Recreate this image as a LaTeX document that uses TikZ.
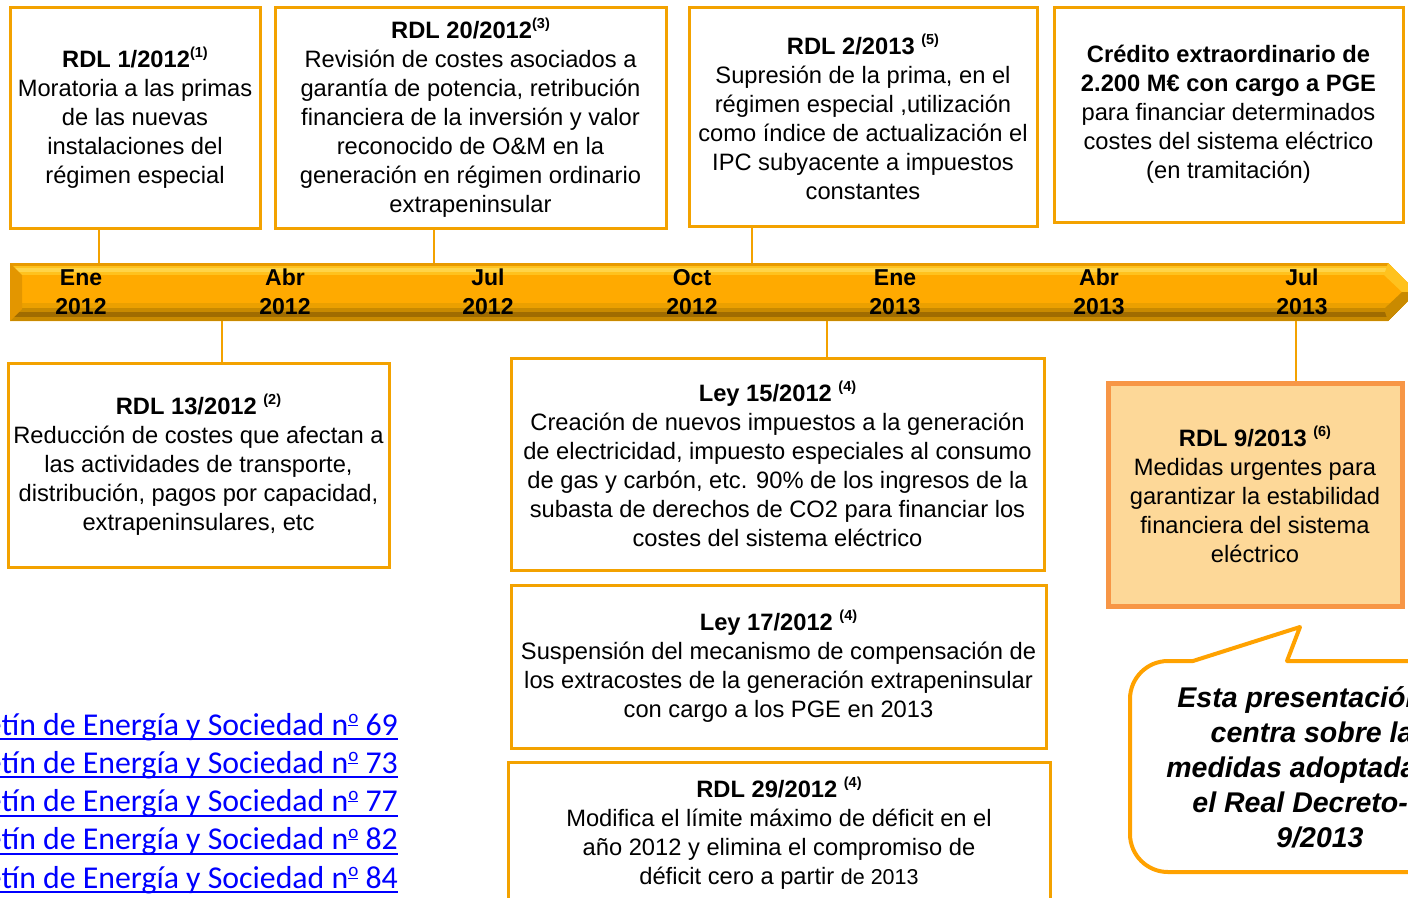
\documentclass[tikz,border=0pt]{standalone}
\usepackage{fontspec}
\setmainfont{Liberation Sans}
\newfontfamily\calib{Carlito}
\usetikzlibrary{calc}
\definecolor{boxor}{HTML}{F3A200}
\definecolor{nineor}{HTML}{F79646}
\definecolor{ninefill}{HTML}{FDD898}
\definecolor{callor}{HTML}{FFA200}
\definecolor{linkblue}{HTML}{0000FF}
\definecolor{arrmain}{HTML}{FFAA00}
\definecolor{arrhi}{HTML}{FFD448}
\definecolor{arrhi2}{HTML}{FFC21E}
\definecolor{arredge}{HTML}{E89A00}
\definecolor{arrsh1}{HTML}{EBA000}
\definecolor{arrsh2}{HTML}{C98A00}
\definecolor{arrsh3}{HTML}{A06C00}
\definecolor{arrbev}{HTML}{E39600}
\newcommand{\supx}[1]{\raisebox{0.42em}{\fontsize{14.5}{14.5}\selectfont\bfseries #1}}
\newcommand{\ordo}{\raisebox{0.36em}{\fontsize{19}{19}\selectfont\underline{o}}}
\tikzset{
  box/.style={draw=boxor, line width=3pt, align=center, inner sep=0pt,
              font=\fontsize{23.7}{29}\selectfont},
  conn/.style={draw=boxor, line width=1.6pt},
  tl/.style={font=\fontsize{23}{29}\selectfont\bfseries, align=center, inner sep=0pt},
  lnk/.style={font=\calib\fontsize{31.8}{31.8}\selectfont, text=linkblue, anchor=base east, inner sep=0pt},
  uline/.style={draw=linkblue, line width=2pt},
  callbox/.style={draw=callor, line width=4pt, fill=white, line join=round},
}
\begin{document}
\begin{tikzpicture}[x=1pt,y=-1pt]
\clip (0,0) rectangle (1408,897);
\fill[white] (0,0) rectangle (1408,897);

% ---------- timeline arrow ----------
\begin{scope}
  \clip (10,263) -- (1388,263) -- (1417,292) -- (1388,321) -- (10,321) -- cycle;
  \fill[arrmain] (0,250) rectangle (1430,330);
  \fill[arredge] (0,263) rectangle (1430,265.5);
  \fill[arrhi2] (0,265.5) rectangle (1430,267.5);
  \fill[arrhi] (0,267.5) rectangle (1430,272);
  \fill[arrhi2] (0,272) rectangle (1430,275);
  \fill[arrsh1] (0,303) rectangle (1430,308);
  \fill[arrsh2] (0,308) rectangle (1430,312);
  \fill[arrsh3] (0,312) rectangle (1430,317);
  \fill[arrsh2] (0,317) rectangle (1430,321);
  \fill[arrbev] (10,263) -- (22,275) -- (22,309) -- (10,321) -- cycle;
  \fill[arrhi2] (1388,263) -- (1417,292) -- (1402,292) -- (1384,275) -- cycle;
  \fill[arrsh2] (1384,309) -- (1402,292) -- (1417,292) -- (1388,321) -- cycle;
\end{scope}
\coordinate (c1) at (99,263);
\coordinate (c2) at (434,263);
\coordinate (c3) at (752,263);
\coordinate (c5) at (222,321);
\coordinate (c6) at (827,321);
\coordinate (c9) at (1296,321);

\node[tl] (t1) at (81,292) {Ene\\2012};
\node[tl] (t2) at (285,292) {Abr\\2012};
\node[tl] (t3) at (488,292) {Jul\\2012};
\node[tl] (t4) at (692,292) {Oct\\2012};
\node[tl] (t5) at (895,292) {Ene\\2013};
\node[tl] (t6) at (1099,292) {Abr\\2013};
\node[tl] (t7) at (1302,292) {Jul\\2013};

% ---------- upper boxes ----------
\node[box, minimum width=250pt, minimum height=221pt] (b1) at (135,117.5)
  {\textbf{RDL 1/2012}\supx{(1)}\\Moratoria a las primas\\de las nuevas\\instalaciones del\\régimen especial};
\node[box, minimum width=391pt, minimum height=221pt] (b2) at (470.5,117.5)
  {\textbf{RDL 20/2012}\supx{(3)}\\Revisión de costes asociados a\\garantía de potencia, retribución\\financiera de la inversión y valor\\reconocido de O\&M en la\\generación en régimen ordinario\\extrapeninsular};
\node[box, minimum width=348pt, minimum height=219pt] (b3) at (863,116.5)
  {\textbf{RDL 2/2013} \supx{(5)}\\Supresión de la prima, en el\\régimen especial ,utilización\\como índice de actualización el\\IPC subyacente a impuestos\\constantes};
\node[box, minimum width=349pt, minimum height=215pt] (b4) at (1228.5,114.5)
  {\textbf{Crédito extraordinario de}\\\textbf{2.200 M€ con cargo a PGE}\\para financiar determinados\\costes del sistema eléctrico\\(en tramitación)};

% ---------- lower boxes ----------
\node[box, minimum width=381pt, minimum height=204pt] (b5) at (198.5,465)
  {\textbf{RDL 13/2012} \supx{(2)}\\Reducción de costes que afectan a\\las actividades de transporte,\\distribución, pagos por capacidad,\\extrapeninsulares, etc};
\node[box, minimum width=533pt, minimum height=212pt] (b6) at (777.5,464)
  {\textbf{Ley 15/2012} \supx{(4)}\\Creación de nuevos impuestos a la generación\\de electricidad, impuesto especiales al consumo\\de gas y carbón, etc. 90\% de los ingresos de la\\subasta de derechos de CO2 para financiar los\\costes del sistema eléctrico};
\node[box, minimum width=535pt, minimum height=163pt] (b7) at (778.5,666.5)
  {\textbf{Ley 17/2012} \supx{(4)}\\Suspensión del mecanismo de compensación de\\los extracostes de la generación extrapeninsular\\con cargo a los PGE en 2013};
\node[box, minimum width=542pt, minimum height=142pt] (b8) at (779,833)
  {\textbf{RDL 29/2012} \supx{(4)}\\Modifica el límite máximo de déficit en el\\año 2012 y elimina el compromiso de\\déficit cero a partir {\fontsize{21.5}{29}\selectfont de 2013}};
\node[box, draw=nineor, fill=ninefill, line width=5pt, minimum width=294pt, minimum height=223pt] (b9) at (1255,494.5)
  {\textbf{RDL 9/2013} \supx{(6)}\\Medidas urgentes para\\garantizar la estabilidad\\financiera del sistema\\eléctrico};

% ---------- connectors ----------
\draw[conn] (b1.south -| c1) -- (c1);
\draw[conn] (b2.south -| c2) -- (c2);
\draw[conn] (b3.south -| c3) -- (c3);
\draw[conn] (c5) -- (b5.north -| c5);
\draw[conn] (c6) -- (b6.north -| c6);
\draw[conn] (c9) -- (b9.north -| c9);

% ---------- callout ----------
\draw[callbox] (1450,872) -- (1168,872) arc (90:180:38) -- (1130,699) arc (180:270:38)
  -- (1193,661) -- (1300,627) -- (1287,661) -- (1450,661) -- cycle;
\node[font=\fontsize{28.5}{35}\selectfont\bfseries\itshape, align=center, inner sep=0pt] (call) at (1320,767.5)
  {Esta presentación se\\centra sobre las\\medidas adoptadas en\\el Real Decreto-ley\\9/2013};

% ---------- links ----------
\node[lnk] (lk1) at (398,735) {Boletín de Energía y Sociedad n\ordo{} 69};
\node[lnk] (lk2) at (398,773) {Boletín de Energía y Sociedad n\ordo{} 73};
\node[lnk] (lk3) at (398,811.5) {Boletín de Energía y Sociedad n\ordo{} 77};
\node[lnk] (lk4) at (398,849.5) {Boletín de Energía y Sociedad n\ordo{} 82};
\node[lnk] (lk5) at (398,888) {Boletín de Energía y Sociedad n\ordo{} 84};
\draw[uline] ($(lk1.base west)+(0,4)$) -- ($(lk1.base east)+(0,4)$);
\draw[uline] ($(lk2.base west)+(0,4)$) -- ($(lk2.base east)+(0,4)$);
\draw[uline] ($(lk3.base west)+(0,4)$) -- ($(lk3.base east)+(0,4)$);
\draw[uline] ($(lk4.base west)+(0,4)$) -- ($(lk4.base east)+(0,4)$);
\draw[uline] ($(lk5.base west)+(0,4)$) -- ($(lk5.base east)+(0,4)$);
\end{tikzpicture}
\end{document}
